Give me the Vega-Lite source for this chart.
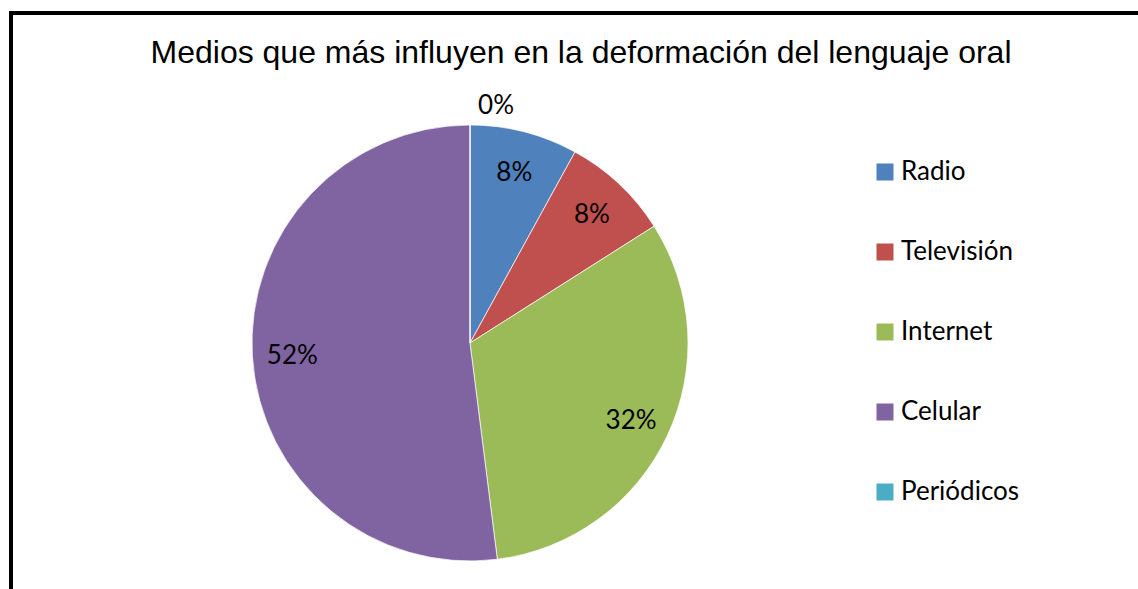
{
  "$schema": "https://vega.github.io/schema/vega-lite/v6.json",
  "autosize": "none",
  "width": 1140,
  "height": 590,
  "padding": {"left": 11, "top": 13, "right": 0, "bottom": 0},
  "background": "white",
  "view": {"stroke": "black", "strokeWidth": 4, "fill": "white"},
  "config": {"view": {"stroke": "black", "strokeWidth": 4}},
  "title": {
    "text": "Medios que más influyen en la deformación del lenguaje oral",
    "font": "Liberation Sans",
    "fontSize": 32,
    "fontWeight": "normal",
    "color": "black",
    "anchor": "middle",
    "frame": "group",
    "baseline": "alphabetic",
    "offset": 0,
    "dy": 82
  },
  "data": {
    "values": [
      {"medio": "Radio", "share": 0.08, "ord": 1},
      {"medio": "Televisión", "share": 0.08, "ord": 2},
      {"medio": "Internet", "share": 0.32, "ord": 3},
      {"medio": "Celular", "share": 0.52, "ord": 4},
      {"medio": "Periódicos", "share": 0, "ord": 5}
    ]
  },
  "encoding": {
    "theta": {"field": "share", "type": "quantitative", "stack": true},
    "order": {"field": "ord", "type": "quantitative"}
  },
  "layer": [
    {
      "mark": {"type": "arc", "radius": 218, "stroke": "white", "strokeWidth": 0.7, "xOffset": -111, "yOffset": 35},
      "encoding": {
        "color": {
          "field": "medio",
          "type": "nominal",
          "scale": {
            "domain": ["Radio", "Televisión", "Internet", "Celular", "Periódicos"],
            "range": ["#4F81BD", "#C0504D", "#9BBB59", "#8064A2", "#4BACC6"]
          },
          "legend": {
            "title": null,
            "orient": "none",
            "legendX": 861,
            "legendY": 146,
            "padding": 0,
            "symbolType": "square",
            "symbolSize": 289,
            "symbolStrokeWidth": 0,
            "labelFont": "Lato",
            "labelFontSize": 26,
            "labelColor": "black",
            "labelOffset": 3,
            "rowPadding": 54,
            "labelLimit": 300
          }
        }
      }
    },
    {
      "transform": [{"filter": "datum.share > 0"}],
      "mark": {"type": "text", "radius": 178, "font": "Lato", "fontSize": 26, "color": "black", "xOffset": -111, "yOffset": 37},
      "encoding": {
        "text": {"field": "share", "type": "quantitative", "format": ".0%"}
      }
    },
    {
      "transform": [{"filter": "datum.share == 0"}],
      "mark": {"type": "text", "radius": 237, "font": "Lato", "fontSize": 26, "color": "black", "xOffset": -85, "yOffset": 35},
      "encoding": {
        "text": {"field": "share", "type": "quantitative", "format": ".0%"}
      }
    }
  ]
}
